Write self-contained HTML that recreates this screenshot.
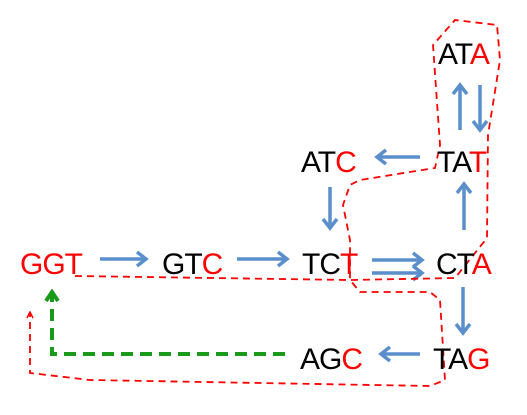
<!DOCTYPE html>
<html><head><style>
body{margin:0;background:#fff;width:527px;height:415px;overflow:hidden}
svg{display:block}
text{font-family:"Liberation Sans",sans-serif;font-size:30px;letter-spacing:-1px}
.r{fill:#ff0000}
</style></head><body>
<svg width="527" height="415" viewBox="0 0 527 415">
<defs>
<marker id="b" markerWidth="14" markerHeight="18" refX="11" refY="9" orient="auto" markerUnits="userSpaceOnUse"><path d="M2,2 L11,9 L2,16" fill="none" stroke="#5b8fcb" stroke-width="3.5"/></marker>
<marker id="g" markerWidth="14" markerHeight="16" refX="11" refY="8" orient="auto" markerUnits="userSpaceOnUse"><path d="M2,2 L11,8 L2,14" fill="none" stroke="#1a9a1a" stroke-width="4"/></marker>
<marker id="rr" markerWidth="8" markerHeight="8" refX="7" refY="4" orient="auto" markerUnits="userSpaceOnUse"><path d="M1,1 L7,4 L1,7" fill="none" stroke="#ff0000" stroke-width="1.5"/></marker>
</defs>
<g stroke="#5b8fcb" stroke-width="3.5" fill="none" marker-end="url(#b)">
<line x1="100" y1="259" x2="146" y2="259"/>
<line x1="237" y1="259" x2="287" y2="259"/>
<line x1="372" y1="260" x2="422" y2="260"/>
<line x1="372" y1="273" x2="422" y2="273"/>
<line x1="464" y1="230" x2="464" y2="184"/>
<line x1="420" y1="157" x2="377" y2="157"/>
<line x1="330" y1="187" x2="330" y2="228"/>
<line x1="460" y1="130" x2="460" y2="85"/>
<line x1="480" y1="85" x2="480" y2="130"/>
<line x1="463" y1="287" x2="463" y2="333"/>
<line x1="420" y1="354" x2="381" y2="354"/>
</g>
<polyline points="285,354 52,354 52,292" fill="none" stroke="#1a9a1a" stroke-width="4" stroke-dasharray="12,7" marker-end="url(#g)"/>
<path d="M75,276 L350,280 L455,278 L487,238 L488,135 L500,60 L497,25 L455,20 L433,45 L440,145 L435,168 L360,180 L350,185 L343,205 L350,240 L350,280 L360,292 L430,292 L440,300 L445,380 L430,386 L90,380 L30,373 L30,312" fill="none" stroke="#ff0000" stroke-width="1.8" stroke-dasharray="7,5" marker-end="url(#rr)"/>
<text x="20" y="274"><tspan class="r">GGT</tspan></text>
<text x="162" y="274">GT<tspan class="r">C</tspan></text>
<text x="302" y="274">TC<tspan class="r">T</tspan></text>
<text x="436" y="274">CT<tspan class="r">A</tspan></text>
<text x="301" y="172">AT<tspan class="r">C</tspan></text>
<text x="437" y="172">TA<tspan class="r">T</tspan></text>
<text x="438" y="64">AT<tspan class="r">A</tspan></text>
<text x="300" y="369">AG<tspan class="r">C</tspan></text>
<text x="433" y="369">TA<tspan class="r">G</tspan></text>
</svg>
</body></html>
